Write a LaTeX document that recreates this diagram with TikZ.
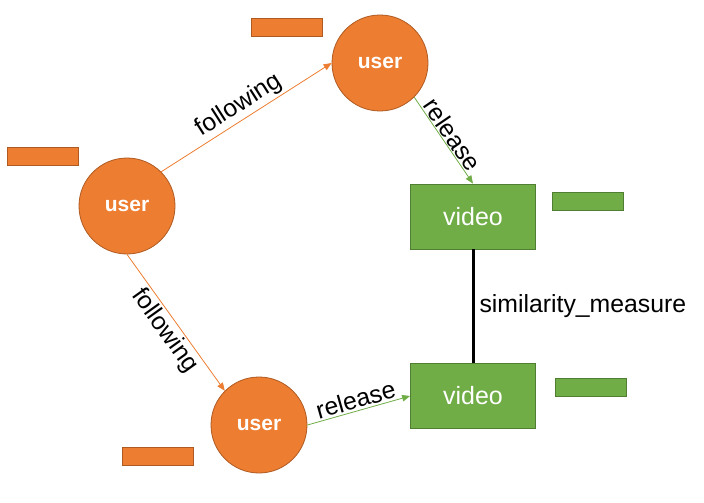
\documentclass[tikz,border=0pt]{standalone}
\usepackage{fontspec}
\setmainfont{Liberation Sans}
\usetikzlibrary{arrows.meta}
\definecolor{userorange}{HTML}{ED7D31}
\definecolor{userborder}{HTML}{AE5A21}
\definecolor{videogreen}{HTML}{70AD47}
\definecolor{videoborder}{HTML}{507E32}

\begin{document}
\begin{tikzpicture}[x=1pt, y=-1pt, >={Triangle[length=8pt,width=6.5pt]},
  user/.style={circle, fill=userorange, draw=userborder, line width=0.8pt,
    minimum size=96pt, inner sep=0pt, text=white,
    font=\fontsize{21}{25}\selectfont\bfseries},
  video/.style={rectangle, fill=videogreen, draw=videoborder, line width=0.8pt,
    minimum width=125pt, minimum height=65pt, text=white,
    font=\fontsize{25}{29}\selectfont},
  usertag/.style={rectangle, fill=userorange, draw=userborder, line width=0.8pt,
    minimum width=71pt, minimum height=18pt, inner sep=0pt},
  videotag/.style={rectangle, fill=videogreen, draw=videoborder, line width=0.8pt,
    minimum width=71pt, minimum height=18pt, inner sep=0pt},
  lbl/.style={font=\fontsize{24.8}{29}\selectfont, text=black, inner sep=2pt},
  follow/.style={->, draw=userorange, line width=0.8pt},
  release/.style={->, draw=videogreen, line width=0.8pt},
  simline/.style={draw=black, line width=3pt}]
  \useasboundingbox (0,0) rectangle (704,503);

  % Users
  \node[user] (uL) at (127,206) {user};
  \node[user] (uT) at (380,63) {user};
  \node[user] (uB) at (259,425) {user};

  % Videos
  \node[video] (vT) at (473,216.5) {video};
  \node[video] (vB) at (473,396) {video};

  % Empty tags beside the nodes
  \node[usertag] (tT) at (287,27) {};
  \node[usertag] (tL) at (42.5,156) {};
  \node[usertag] (tB) at (158,456) {};
  \node[videotag] (gT) at (587.5,201) {};
  \node[videotag] (gB) at (591,387) {};

  % Following edges
  \draw[follow] (uL.45) -- node[lbl, sloped, above] {following} (uT.west);
  \draw[follow] (uL.south) -- node[lbl, sloped, below] {following} (uB.135);

  % Release edges
  \draw[release] (uT.-45) -- node[lbl, sloped, above, inner sep=1pt] {release} (vT.north);
  \draw[release] (uB.east) -- node[lbl, sloped, above] {release} (vB.west);

  % Similarity between videos
  \draw[simline] (vT.south) -- node[lbl, right, xshift=3pt] {similarity\_measure} (vB.north);
\end{tikzpicture}
\end{document}
